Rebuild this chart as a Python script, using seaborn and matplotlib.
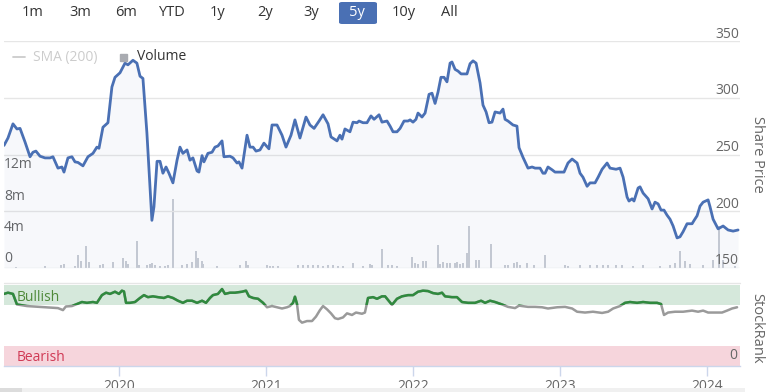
import matplotlib
matplotlib.use("Agg")
import matplotlib.pyplot as plt
import seaborn as sns
import numpy as np
from matplotlib.patches import Rectangle, FancyBboxPatch
from matplotlib.lines import Line2D

# ---------------- data ----------------
price_years = [2019.218, 2019.245, 2019.279, 2019.306, 2019.327, 2019.361, 2019.395, 2019.415, 2019.435, 2019.463,
               2019.497, 2019.531, 2019.551, 2019.585, 2019.612, 2019.626, 2019.653, 2019.680, 2019.701, 2019.721,
               2019.755, 2019.789, 2019.823, 2019.850, 2019.864, 2019.891, 2019.925, 2019.952, 2019.973, 2020.007,
               2020.041, 2020.061, 2020.095, 2020.122, 2020.143, 2020.163, 2020.190, 2020.224, 2020.238, 2020.259,
               2020.279, 2020.299, 2020.320, 2020.340, 2020.367, 2020.395, 2020.415, 2020.435, 2020.463, 2020.483,
               2020.503, 2020.531, 2020.544, 2020.565, 2020.578, 2020.605, 2020.633, 2020.653, 2020.673, 2020.701,
               2020.714, 2020.755, 2020.776, 2020.803, 2020.816, 2020.837, 2020.871, 2020.891, 2020.912, 2020.932,
               2020.959, 2020.986, 2021.020, 2021.041, 2021.075, 2021.109, 2021.136, 2021.170, 2021.197, 2021.231,
               2021.272, 2021.299, 2021.327, 2021.361, 2021.388, 2021.422, 2021.442, 2021.483, 2021.503, 2021.517,
               2021.537, 2021.571, 2021.592, 2021.619, 2021.633, 2021.660, 2021.687, 2021.714, 2021.735, 2021.769,
               2021.789, 2021.823, 2021.844, 2021.864, 2021.891, 2021.912, 2021.939, 2021.966, 2021.980, 2022.000,
               2022.020, 2022.034, 2022.061, 2022.082, 2022.109, 2022.129, 2022.150, 2022.170, 2022.190, 2022.211,
               2022.231, 2022.252, 2022.265, 2022.286, 2022.306, 2022.327, 2022.354, 2022.367, 2022.388, 2022.408,
               2022.429, 2022.456, 2022.476, 2022.497, 2022.517, 2022.537, 2022.558, 2022.592, 2022.612, 2022.626,
               2022.646, 2022.680, 2022.707, 2022.721, 2022.748, 2022.782, 2022.810, 2022.830, 2022.864, 2022.884,
               2022.898, 2022.918, 2022.946, 2022.966, 2023.000, 2023.027, 2023.054, 2023.082, 2023.116, 2023.136,
               2023.156, 2023.184, 2023.204, 2023.238, 2023.259, 2023.286, 2023.320, 2023.340, 2023.381, 2023.408,
               2023.429, 2023.456, 2023.469, 2023.490, 2023.503, 2023.531, 2023.544, 2023.565, 2023.599, 2023.626,
               2023.646, 2023.667, 2023.687, 2023.707, 2023.728, 2023.748, 2023.769, 2023.796, 2023.816, 2023.837,
               2023.864, 2023.898, 2023.912, 2023.932, 2023.952, 2023.973, 2024.007, 2024.020, 2024.041, 2024.075,
               2024.109, 2024.143, 2024.177, 2024.211]
price_values = [258, 264.5, 277, 272.5, 273, 261, 248, 252, 253, 248.5,
                247, 247, 248, 238, 239, 234.5, 247, 248, 243.5, 243,
                240, 248, 251, 256.5, 255.5, 274, 278, 309.5, 318, 322,
                330.5, 329, 333, 330.5, 319, 317, 269, 192, 204, 244,
                244, 233.5, 239, 233.5, 225, 245, 256.5, 251, 254, 245,
                247, 235.5, 234.5, 249, 243.5, 251, 252, 256.5, 257.5, 262,
                248, 248.5, 247, 242.5, 243.5, 238, 267, 256.5, 256.5, 253,
                254, 260, 255, 276, 276, 267, 256.5, 267, 280.5, 264.5,
                283, 276, 273, 279.5, 285, 277, 265.5, 262, 267, 263.5,
                272.5, 270, 278.5, 278, 279.5, 278, 278, 284, 281, 285,
                278.5, 279.5, 275, 270, 270, 273, 279.5, 279.5, 280.5, 278.5,
                281, 286.5, 283, 286.5, 303, 304, 295, 305, 318, 318,
                314, 330.5, 331.5, 325, 323.5, 321, 321, 321, 330, 332.5,
                330.5, 313, 293.5, 287.5, 278, 278.5, 287.5, 286.5, 290, 281,
                279.5, 276, 275, 256, 247.5, 238, 239, 238, 238, 233.5,
                233.5, 239, 236.5, 234.5, 234.5, 234.5, 242.5, 246, 242.5, 233.5,
                230, 222, 225, 225, 230, 237, 242.5, 238, 237, 238,
                230, 212.5, 209, 211, 209, 220.5, 221.5, 216, 211, 202,
                208, 206.5, 201, 201, 196.5, 193, 187, 176.5, 177.5, 182,
                189, 189, 192, 196, 204.5, 208, 210, 204, 193, 184.5,
                187, 183.5, 182.5, 183.5]

volume_years = [2019.299, 2019.497, 2019.605, 2019.626, 2019.701, 2019.721, 2019.741, 2019.776, 2019.796, 2019.871,
                2019.891, 2019.959, 2020.027, 2020.048, 2020.061, 2020.122, 2020.136, 2020.190, 2020.211, 2020.224,
                2020.245, 2020.279, 2020.313, 2020.333, 2020.367, 2020.429, 2020.463, 2020.497, 2020.524, 2020.537,
                2020.565, 2020.571, 2020.667, 2020.823, 2020.864, 2020.878, 2021.007, 2021.027, 2021.048, 2021.082,
                2021.218, 2021.252, 2021.286, 2021.320, 2021.354, 2021.388, 2021.422, 2021.456, 2021.490, 2021.524,
                2021.592, 2021.660, 2021.707, 2021.721, 2021.789, 2021.830, 2021.857, 2021.891, 2021.993, 2022.014,
                2022.034, 2022.068, 2022.088, 2022.170, 2022.184, 2022.204, 2022.231, 2022.252, 2022.286, 2022.299,
                2022.320, 2022.340, 2022.367, 2022.381, 2022.429, 2022.449, 2022.531, 2022.626, 2022.646, 2022.687,
                2022.707, 2022.728, 2022.776, 2022.823, 2022.898, 2023.034, 2023.054, 2023.136, 2023.204, 2023.252,
                2023.293, 2023.327, 2023.381, 2023.422, 2023.497, 2023.565, 2023.680, 2023.748, 2023.782, 2023.816,
                2023.850, 2023.884, 2023.973, 2024.041, 2024.082, 2024.109, 2024.190]
volume_millions = [0.1, 0.2, 0.35, 0.5, 0.2, 1.7, 0.9, 2.75, 0.76, 0.35,
                   0.5, 0.76, 1.27, 0.85, 0.5, 3.4, 0.42, 0.35, 0.5, 0.63,
                   0.35, 0.2, 0.2, 0.35, 8.7, 0.35, 0.5, 0.76, 2.2, 1.27,
                   0.93, 0.5, 0.2, 0.42, 0.93, 0.42, 0.35, 0.2, 0.2, 0.2,
                   0.35, 0.35, 0.35, 0.42, 0.35, 0.2, 0.42, 0.35, 0.2, 0.2,
                   0.63, 0.2, 0.5, 0.35, 2.45, 0.35, 0.42, 0.2, 1.35, 0.63,
                   0.5, 0.85, 0.93, 2.96, 0.5, 0.76, 0.63, 0.63, 0.63, 0.76,
                   0.5, 0.63, 1.9, 5.3, 1.06, 1.06, 3.0, 0.35, 0.42, 0.63,
                   0.76, 0.42, 0.63, 0.35, 1.7, 0.35, 0.2, 0.35, 0.35, 0.35,
                   0.42, 0.35, 0.35, 0.35, 0.2, 0.35, 0.2, 0.35, 0.63, 2.2,
                   0.85, 0.5, 0.35, 1.06, 5.3, 1.06, 0.2]

rank_years = [2019.218, 2019.245, 2019.279, 2019.306, 2019.374, 2019.415, 2019.463, 2019.531, 2019.585, 2019.619,
              2019.639, 2019.680, 2019.714, 2019.748, 2019.782, 2019.823, 2019.850, 2019.884, 2019.912, 2019.939,
              2019.973, 2020.000, 2020.020, 2020.034, 2020.048, 2020.075, 2020.109, 2020.143, 2020.170, 2020.197,
              2020.231, 2020.265, 2020.306, 2020.333, 2020.367, 2020.401, 2020.435, 2020.463, 2020.497, 2020.531,
              2020.565, 2020.592, 2020.619, 2020.639, 2020.673, 2020.701, 2020.721, 2020.755, 2020.789, 2020.837,
              2020.864, 2020.884, 2020.912, 2020.946, 2020.980, 2021.007, 2021.041, 2021.075, 2021.109, 2021.143,
              2021.163, 2021.184, 2021.197, 2021.211, 2021.224, 2021.245, 2021.279, 2021.313, 2021.340, 2021.367,
              2021.388, 2021.415, 2021.442, 2021.469, 2021.490, 2021.524, 2021.551, 2021.585, 2021.612, 2021.653,
              2021.673, 2021.694, 2021.728, 2021.755, 2021.789, 2021.810, 2021.857, 2021.891, 2021.925, 2021.966,
              2022.000, 2022.034, 2022.068, 2022.102, 2022.136, 2022.170, 2022.197, 2022.218, 2022.265, 2022.299,
              2022.333, 2022.374, 2022.422, 2022.463, 2022.490, 2022.524, 2022.558, 2022.605, 2022.646, 2022.694,
              2022.721, 2022.741, 2022.782, 2022.830, 2022.878, 2022.918, 2022.980, 2023.034, 2023.082, 2023.116,
              2023.170, 2023.224, 2023.286, 2023.327, 2023.361, 2023.408, 2023.442, 2023.476, 2023.524, 2023.565,
              2023.612, 2023.660, 2023.687, 2023.707, 2023.735, 2023.782, 2023.837, 2023.898, 2023.939, 2023.973,
              2024.007, 2024.054, 2024.102, 2024.136, 2024.170, 2024.204]
rank_values = [89, 90.5, 89, 76, 74, 73.5, 73, 72, 71.5, 69,
               73.5, 74, 76.5, 79, 78, 79, 78, 87.5, 90.5, 89,
               91.7, 89, 93, 92, 78, 78, 79, 84, 87.5, 85,
               86, 85, 84, 86, 84, 80.6, 78, 80.6, 80.6, 78,
               80.6, 78, 84, 87.5, 89, 95, 89, 90.5, 90.5, 91.7,
               93, 86, 84, 83, 78, 72.5, 74, 72.5, 71, 72.5,
               74, 78, 85.6, 76.5, 57, 53.5, 55.5, 55.5, 61, 69,
               74, 70, 65, 59, 58, 60, 65, 63, 66, 64.5,
               66, 84, 85, 83, 86, 86, 75.5, 83, 86, 87.5,
               87.5, 91.7, 93, 92.5, 90, 89, 90.5, 86, 85, 85,
               79, 78, 78, 80.6, 78, 80.6, 79, 76, 73, 71.5,
               74.5, 74, 73, 73, 72.5, 71, 72.5, 73, 71, 67,
               66, 67, 65.5, 67, 71, 74, 78, 79, 78, 79,
               78, 78, 76.5, 63, 66, 67, 67, 68.4, 67, 68.4,
               66, 66, 66, 68.4, 71, 72.5]

price_ticks = [150, 200, 250, 300, 350]
volume_ticks = [0, 4, 8, 12]
volume_tick_labels = ["0", "4m", "8m", "12m"]
year_ticks = [2020, 2021, 2022, 2023, 2024]
range_buttons = ["1m", "3m", "6m", "YTD", "1y", "2y", "3y", "5y", "10y", "All"]
selected_button = "5y"

# ---------------- style ----------------
sns.set_theme(style="white")
plt.rcParams["font.family"] = ["Open Sans", "DejaVu Sans"]

W, H = 766, 392
fig = plt.figure(figsize=(W / 100, H / 100), dpi=100)
fig.patch.set_facecolor("white")

def fx(px):
    return px / W

def fy(py):
    return 1 - py / H

LINE_BLUE = "#4a70b4"
GRID = "#e6e6e6"
LABEL = "#666666"
XMIN, XMAX = 2019.218, 2024.224

# ---------------- main price / volume panel ----------------
ax_vol = fig.add_axes([fx(4), fy(268), fx(736), 227 / H])
ax = ax_vol.twinx()
ax.set_position([fx(4), fy(268), fx(736), 227 / H])

ax_vol.bar(volume_years, volume_millions, width=0.011, color="#c9ccd4", linewidth=0, zorder=2)
ax_vol.set_ylim(0, 227 / 7.875)
ax_vol.set_xlim(XMIN, XMAX)
ax_vol.set_facecolor("white")

ax.fill_between(price_years, price_values, 150, color=LINE_BLUE, alpha=0.045, linewidth=0, zorder=1)
sns.lineplot(x=price_years, y=price_values, ax=ax, color=LINE_BLUE, linewidth=2.0, errorbar=None, zorder=3)
ax.set_ylim(150, 350)
ax.set_xlim(XMIN, XMAX)
ax.set_yticks(price_ticks)
ax.yaxis.grid(True, color=GRID, linewidth=1)
ax.set_axisbelow(True)
ax.xaxis.grid(False)
ax.set_ylabel("")
ax.set_xlabel("")

for a in (ax, ax_vol):
    for s in a.spines.values():
        s.set_visible(False)
    a.tick_params(left=False, right=False, bottom=False, top=False,
                  labelleft=False, labelright=False, labelbottom=False)

for v in price_ticks:
    ax.annotate(str(v), xy=(1, v), xycoords=("axes fraction", "data"),
                xytext=(-1, 7), textcoords="offset pixels", ha="right", va="center",
                fontsize=10, color=LABEL)
for v, lab in zip(volume_ticks, volume_tick_labels):
    ax_vol.annotate(lab, xy=(0, v), xycoords=("axes fraction", "data"),
                    xytext=(0, 9), textcoords="offset pixels", ha="left", va="center",
                    fontsize=10, color=LABEL)

fig.text(fx(757), fy(154), "Share Price", rotation=270, ha="center", va="center",
         fontsize=10.5, color=LABEL)

# legend
fig.add_artist(Line2D([fx(13), fx(25)], [fy(57), fy(57)], color="#cccccc", lw=1.3))
fig.text(fx(33), fy(57), "SMA (200)", ha="left", va="center", fontsize=10, color="#cccccc")
fig.add_artist(Rectangle((fx(120), fy(61)), fx(7), 7 / H, color="#a9abb1", transform=fig.transFigure))
fig.text(fx(137), fy(57), "Volume", ha="left", va="center", fontsize=10, color="#333333")

# range selector buttons
button_x = [33, 80, 126, 172, 218, 265, 311, 357, 404, 449]
for lab, bx in zip(range_buttons, button_x):
    col = "#333333"
    if lab == selected_button:
        fig.add_artist(FancyBboxPatch((fx(339), fy(24)), fx(38), 22 / H,
                                      boxstyle="round,pad=0,rounding_size=0.004",
                                      transform=fig.transFigure, color="#4a70b4", lw=0))
        col = "white"
    fig.text(fx(bx), fy(12.5), lab, ha="center", va="center", fontsize=10.5, color=col)

# ---------------- StockRank panel ----------------
ax_sr = fig.add_axes([fx(4), fy(366), fx(736), 81 / H])
ax_sr.set_xlim(XMIN, XMAX)
ax_sr.set_ylim(0, 100)
ax_sr.axhspan(75, 100, color="#d5e8db", lw=0, zorder=0)
ax_sr.axhspan(0, 25, color="#f6d5dc", lw=0, zorder=0)
sns.lineplot(x=rank_years, y=rank_values, ax=ax_sr, color="#9a9a9a", linewidth=1.8, errorbar=None, zorder=2)
sns.lineplot(x=rank_years, y=rank_values, ax=ax_sr, color="#2f8a3e", linewidth=1.8, errorbar=None, zorder=3)
clip = Rectangle((XMIN, 75), XMAX - XMIN, 30, transform=ax_sr.transData)
ax_sr.lines[-1].set_clip_path(clip)
ax_sr.set_ylabel("")
ax_sr.set_xlabel("")
ax_sr.set_yticks([])
for name, s in ax_sr.spines.items():
    s.set_visible(name == "bottom")
ax_sr.spines["bottom"].set_color("#ccd6eb")
ax_sr.spines["bottom"].set_linewidth(1)
ax_sr.set_xticks(year_ticks)
ax_sr.set_xticklabels([str(y) for y in year_ticks])
ax_sr.tick_params(axis="x", bottom=True, length=7.5, width=1, color="#ccd6eb",
                  labelsize=10, labelcolor=LABEL, pad=1.5)
ax_sr.text(13 / 736, 0.85, "Bullish", transform=ax_sr.transAxes,
           ha="left", va="center", fontsize=10, color="#4f8a3a", zorder=4)
ax_sr.text(13 / 736, 0.1, "Bearish", transform=ax_sr.transAxes,
           ha="left", va="center", fontsize=10, color="#d03a55")
ax_sr.annotate("0", xy=(1, 12.5), xycoords=("axes fraction", "data"), xytext=(-3, 0),
               textcoords="offset pixels", ha="right", va="center", fontsize=10, color=LABEL)
fig.text(fx(757), fy(328), "StockRank", rotation=270, ha="center", va="center",
         fontsize=10.5, color=LABEL)
fig.add_artist(Line2D([fx(4), fx(740)], [fy(283), fy(283)], color=GRID, lw=1))

# navigator scrollbar strip
fig.add_artist(Rectangle((0, 0), fx(745), 4 / H, color="#f0f0f0", transform=fig.transFigure, lw=0))
fig.add_artist(Rectangle((0, 0), fx(22), 4 / H, color="#dcdcdc", transform=fig.transFigure, lw=0))

fig.savefig("out.png", dpi=100, facecolor="white")
